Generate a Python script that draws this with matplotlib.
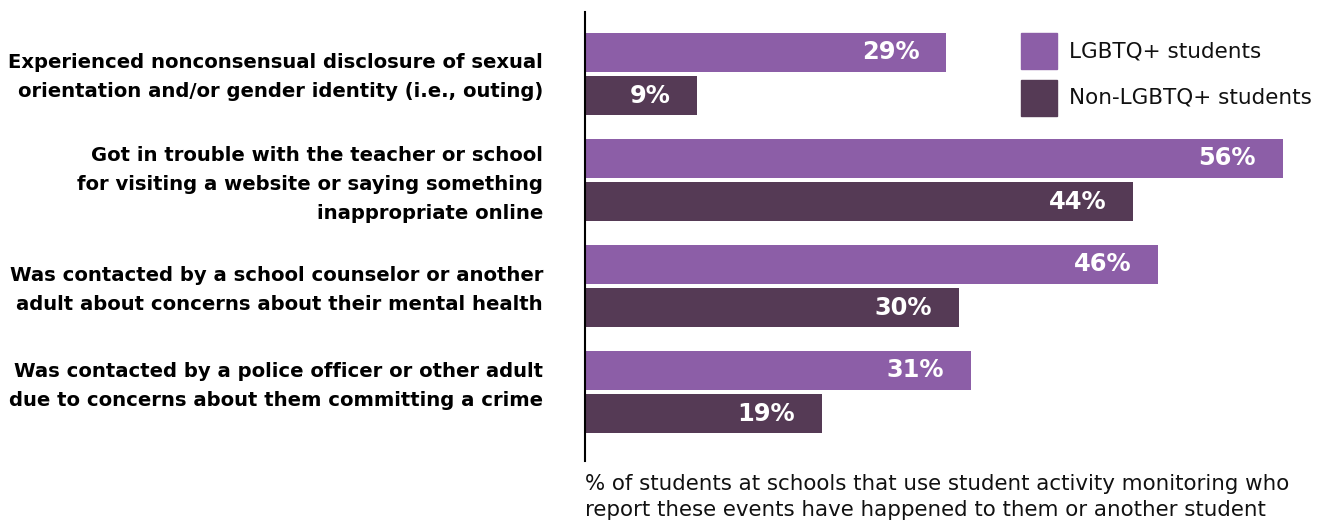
import matplotlib
matplotlib.use("Agg")
import matplotlib.pyplot as plt
from matplotlib.patches import Rectangle

categories = [
    "Experienced nonconsensual disclosure of sexual\norientation and/or gender identity (i.e., outing)",
    "Got in trouble with the teacher or school\nfor visiting a website or saying something\ninappropriate online",
    "Was contacted by a school counselor or another\nadult about concerns about their mental health",
    "Was contacted by a police officer or other adult\ndue to concerns about them committing a crime",
]
lgbtq = [29, 56, 46, 31]
non_lgbtq = [9, 44, 30, 19]
series_names = ["LGBTQ+ students", "Non-LGBTQ+ students"]
caption = ("% of students at schools that use student activity monitoring who\n"
           "report these events have happened to them or another student")

c_lg = "#8c5ea7"
c_non = "#553a55"
FONT = "DejaVu Sans"

W, H = 1317, 523
fig = plt.figure(figsize=(W / 100, H / 100), dpi=100)
ax_left, ax_right, ax_top, ax_bot = 585, 1317, 12, 461
ax = fig.add_axes([ax_left / W, 1 - ax_bot / H, (ax_right - ax_left) / W, (ax_bot - ax_top) / H])

px_per_pct = 12.46
ax.set_xlim(0, (ax_right - ax_left) / px_per_pct)
ax.set_ylim(3.651, -0.585)

ys = list(range(len(categories)))
h = 0.368
off = 0.203
b1 = ax.barh([y - off for y in ys], lgbtq, height=h, color=c_lg)
b2 = ax.barh([y + off for y in ys], non_lgbtq, height=h, color=c_non)

pad = 27 / px_per_pct
for bars, vals in ((b1, lgbtq), (b2, non_lgbtq)):
    for bar, v in zip(bars, vals):
        ax.text(v - pad, bar.get_y() + bar.get_height() / 2, f"{v}%",
                ha="right", va="center", color="white", fontsize=17.4,
                fontweight="bold", family=FONT)

for s in ("top", "right", "bottom"):
    ax.spines[s].set_visible(False)
ax.spines["left"].set_linewidth(1.5)
ax.spines["left"].set_color("black")
ax.set_xticks([])
ax.set_yticks([])

lab_x = (543 - ax_left) / (ax_right - ax_left)
label_centers = [0.03, 0.04, 0.04, -0.06]
for y, cat, dc in zip(ys, categories, label_centers):
    ax.text(lab_x, y + dc, cat, transform=ax.get_yaxis_transform(),
            ha="right", va="center", multialignment="right",
            fontsize=14.1, fontweight="bold", family=FONT, linespacing=1.66,
            color="black")

# legend
for i, (name, col) in enumerate(zip(series_names, [c_lg, c_non])):
    top = 33 + i * 47
    fig.patches.append(Rectangle((1021 / W, 1 - (top + 36) / H), 36 / W, 36 / H,
                                 transform=fig.transFigure, color=col))
    fig.text(1069 / W, 1 - (top + 18) / H, name, ha="left", va="center",
             fontsize=15.5, family=FONT, color="#111111")

fig.text(585 / W, 1 - 497 / H, caption, ha="left", va="center",
         fontsize=15.4, family=FONT, linespacing=1.4, color="#111111")

fig.savefig("out.png", dpi=100)
